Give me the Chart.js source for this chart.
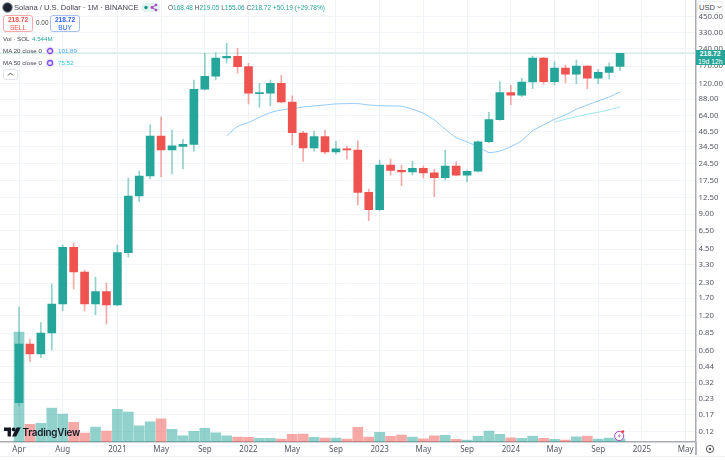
<!DOCTYPE html>
<html>
<head>
<meta charset="utf-8">
<title>Solana / U.S. Dollar</title>
<script src="https://cdn.jsdelivr.net/npm/chart.js@4"></script>
<style>
  html, body { margin: 0; padding: 0; background: #fff; }
  #wrap { position: relative; width: 725px; height: 460px; overflow: hidden; font-family: "Liberation Sans", sans-serif; color: #434651; }
  #wrap canvas { position: absolute; left: 0; top: 0; }
  .t { position: absolute; white-space: nowrap; font-size: 6.2px; line-height: 10px; }
  .box { position: absolute; width: 28px; height: 15px; border-radius: 3px; background: #fff; text-align: center; font-size: 6.6px; line-height: 7.5px; }
  .ico { position: absolute; }
</style>
</head>
<body>
<div id="wrap">
  <canvas id="myChart" width="725" height="460"></canvas>

  <svg class="ico" style="left:2px;top:2px" width="11" height="11"><circle cx="5.5" cy="5.5" r="4.8" fill="#1c2230" stroke="#7b8f9a" stroke-width="1"/></svg>
  <div class="t" style="left:14px;top:2.5px;font-size:7.6px;color:#3f424c">Solana / U.S. Dollar · 1M · BINANCE</div>
  <div class="ico" style="left:141px;top:3px;width:19px;height:9px;border-radius:5px;background:#e3f3f1"></div>
  <svg class="ico" style="left:143px;top:3px" width="16" height="9"><circle cx="3" cy="4.5" r="1.7" fill="#089981"/><path d="M9 4.5 L13 2 M9 4.5 L13 7" stroke="#ab47bc" stroke-width="1"/><circle cx="9" cy="4.5" r="1.4" fill="#ab47bc"/><circle cx="13" cy="2" r="1.3" fill="#ab47bc"/><circle cx="13" cy="7" r="1.3" fill="#ab47bc"/></svg>
  <div class="t" style="left:168px;top:2.5px;font-size:6.5px;color:#26a69a"><span style="color:#555">O</span>168.48 <span style="color:#555">H</span>219.05 <span style="color:#555">L</span>155.06 <span style="color:#555">C</span>218.72 +50.19 (+29.78%)</div>

  <div class="box" style="left:3px;top:15px;border:1px solid #f7a9a9;color:#ef5350"><b style="font-weight:600">218.72</b><br>SELL</div>
  <div class="t" style="left:36px;top:18px;font-size:6.4px;color:#444">0.00</div>
  <div class="box" style="left:50px;top:15px;border:1px solid #a9bdf7;color:#2962ff"><b style="font-weight:600">218.72</b><br>BUY</div>

  <div class="t" style="left:3px;top:34px">Vol · SOL</div>
  <div class="t" style="left:32px;top:34px;color:#26a69a">4.544M</div>
  <div class="t" style="left:3px;top:46px">MA 20 close 0</div>
  <svg class="ico" style="left:45px;top:46px" width="10" height="10"><circle cx="5" cy="5" r="4.5" fill="#ede7f6"/><circle cx="5" cy="5" r="2.5" fill="none" stroke="#7c4dff" stroke-width="1.3"/></svg>
  <div class="t" style="left:58px;top:46px;color:#42a5f5">101.89</div>
  <div class="t" style="left:3px;top:57.5px">MA 50 close 0</div>
  <svg class="ico" style="left:45px;top:57.5px" width="10" height="10"><circle cx="5" cy="5" r="4.5" fill="#ede7f6"/><circle cx="5" cy="5" r="2.5" fill="none" stroke="#7c4dff" stroke-width="1.3"/></svg>
  <div class="t" style="left:58px;top:57.5px;color:#26c6da">75.52</div>
  <svg class="ico" style="left:3px;top:69px" width="15" height="11"><rect x="0.5" y="0.5" width="14" height="10" rx="2" fill="#fff" stroke="#e0e3eb"/><path d="M5 6.5 L7.5 4 L10 6.5" fill="none" stroke="#555" stroke-width="1"/></svg>

  <div class="t" style="left:697px;top:1px;width:26px;height:12px;background:#fff;border:1px solid #eceef2;border-radius:2px;box-sizing:border-box;font-size:7.6px;line-height:11px;padding-left:1px">USD</div>
  <svg class="ico" style="left:717px;top:5px" width="5" height="4"><path d="M0.5 1 L2.5 3 L4.5 1" fill="none" stroke="#555" stroke-width=".8"/></svg>

  <div class="t" style="left:695.5px;top:50px;width:29.5px;height:15px;background:#26a69a;color:#fff;font-size:6.8px;line-height:7.5px;text-align:center"><b style="font-weight:600">218.72</b><br>19d 12h</div>

  <svg class="ico" style="left:613px;top:429px" width="14" height="13"><circle cx="6.2" cy="7" r="4.6" fill="#fff" stroke="#ab47bc" stroke-width="1"/><path d="M7 4.2 L4.8 7.3 L6.3 7.3 L5.4 9.8 L7.7 6.6 L6.2 6.6 Z" fill="#ab47bc"/><circle cx="9.8" cy="2.6" r="1.4" fill="#f23645"/></svg>

  <svg class="ico" style="left:4px;top:427px" width="17" height="10"><path d="M0 0.5 H7 V9.5 H3.6 V4 H0 Z" fill="#131722"/><circle cx="9.6" cy="2.4" r="1.9" fill="#131722"/><path d="M12.6 0.5 H16.8 L12.2 9.5 H8 Z" fill="#131722"/></svg>
  <div class="t" style="left:22.5px;top:424.5px;font-family:Inter,sans-serif;font-size:9.8px;line-height:15px;font-weight:600;letter-spacing:-.2px;color:#131722">TradingView</div>

  <div class="ico" style="left:695px;top:442px;width:1.5px;height:13px;background:#b2b5be"></div>
  <div class="ico" style="left:0;top:455.5px;width:725px;height:1px;background:#f0f1f3"></div>
  <svg class="ico" style="left:705px;top:444px" width="10" height="10"><circle cx="5" cy="5" r="3.6" fill="none" stroke="#555" stroke-width="1"/><circle cx="5" cy="5" r="1.2" fill="#555"/></svg>
</div>

<script>
// Solana monthly candles, Apr 2020 .. Nov 2024
const opens = [
  .214, .687, .563, .853, 1.518, 4.67, 2.863, 1.518, 1.937, 1.488,
  4.20, 12.93, 19.2, 42.5, 32.18, 34.5, 36.0, 107.3, 138.9, 199.5,
  206.4, 167.9, 98.4, 99.1, 120.9, 83.4, 45.1, 33.5, 41.9, 30.9,
  32.85, 32.18, 13.9, 9.85, 23.8, 21.5, 20.8, 22.4, 20.5, 18.6,
  23.4, 19.5, 21.1, 38, 58.8, 100.4, 95.3, 124, 199.5, 124.8,
  163.6, 144.4, 170.3, 133.5, 150.2, 168.48];
const highs = [
  1.43, .758, 1.048, 2.256, 4.89, 5.09, 2.98, 2.59, 2.30, 4.89,
  18.47, 21.2, 52.9, 62, 47.8, 39.8, 129, 219, 221, 267,
  241.8, 179.6, 120.9, 129, 141.6, 94, 46.8, 46.9, 47.8, 38.2,
  34.8, 38.5, 14.85, 26.4, 26.9, 23.8, 25.7, 23.4, 21.9, 32.18,
  25.4, 21.6, 38.5, 68, 124.8, 116.2, 133.5, 207.6, 202, 185.5,
  173.7, 191.8, 172, 159.4, 180.7, 219.05];
const lows = [
  .2007, .4836, .523, .61, 1.329, 2.043, 1.32, 1.228, 1.02, 1.459,
  3.855, 11.54, 18.1, 18.95, 20.0, 22.1, 31.5, 105.8, 129, 179.6,
  147.3, 80.2, 75.1, 77.1, 81.9, 35.5, 25.7, 31.5, 29.7, 29.7,
  26.8, 10.8, 7.92, 9.7, 19.5, 15.85, 19.6, 18.5, 12.75, 17.7,
  19.2, 17.1, 20.8, 37.2, 58.2, 79.1, 92.6, 108.6, 118.5, 117.4,
  121.5, 119, 108.6, 120, 132, 155.06];
const closes = [
  .687, .563, .853, 1.518, 4.67, 2.863, 1.518, 1.937, 1.488, 4.20,
  12.93, 19.2, 42.5, 32.18, 35.0, 36.0, 107.3, 138.9, 199.5, 206.4,
  167.9, 99.1, 99.9, 120.9, 83.4, 45.4, 33.5, 41.9, 30.9, 32.85,
  32.18, 13.9, 9.85, 23.8, 21.5, 20.8, 22.4, 20.4, 18.6, 23.4,
  19.5, 21.1, 37.9, 58.8, 100.4, 95.3, 124, 199.5, 124.8, 163.6,
  144.4, 170.3, 133.5, 150.2, 167, 218.72];
// volume in millions of SOL
const volumes = [
  154, 24.8, 26.2, 47.6, 39.2, 27.6, 12.6, 21, 15.4, 45.8,
  42, 22.8, 28.4, 32.6, 17.8, 8.8, 15, 19.2, 13, 8.8,
  7, 6.6, 5.2, 5.2, 4.2, 10.8, 11.2, 6.6, 5.6, 5.6,
  4.2, 20.6, 7, 13.6, 8, 9.8, 7, 4.6, 8.8, 9.4,
  3.8, 2.8, 8, 15.4, 10.8, 6, 5.2, 8.4, 5.2, 3.8,
  2.8, 7.4, 8.4, 4.2, 5.6, 4.544];
const ma20Start = 19;
const ma20 = [
  42.7, 51.3, 55.4, 61.6, 67.5, 71.2, 73.1, 75.5, 77.1, 78.6,
  80.2, 80.7, 80.7, 78.6, 77.4, 77.1, 76.6, 72.2, 66.7, 58.4,
  48.5, 41.1, 37.7, 34.2, 30.6, 31.5, 34.4, 38.7, 47.2, 52.9,
  59.2, 64.5, 72.2, 78.6, 85.1, 92.1, 101.89];
const ma50Start = 49;
const ma50 = [55.8, 59.2, 62.3, 65.4, 68, 71.2, 75.52];

const monthTicks = [0, 4, 9, 13, 17, 21, 25, 29, 33, 37, 41, 45, 49, 53, 57, 61];
const monthLabels = ["Apr", "Aug", "2021", "May", "Sep", "2022", "May", "Sep", "2023", "May", "Sep", "2024", "May", "Sep", "2025", "May"];
const priceTicks = [450, 330, 240, 170, 120, 88, 64, 46.5, 34.5, 24.5, 17.5, 12.5, 9, 6.5, 4.5, 3.3, 2.3, 1.7, 1.2, .85, .6, .44, .32, .23, .17, .12];

const upColor = "#26a69a";
const downColor = "#ef5350";
const colorOf = (i, alpha) => {
  const up = closes[i] >= opens[i];
  return up ? `rgba(38,166,154,${alpha})` : `rgba(239,83,80,${alpha})`;
};
const idx = opens.map((_, i) => i);
const xMin = -1.74, xMax = 61.9;

new Chart("myChart", {
  data: {
    datasets: [
      {
        type: "bar", yAxisID: "y", grouped: false, order: 1, barThickness: 8,
        data: idx.map(i => ({x: i, y: [opens[i], closes[i]]})),
        backgroundColor: idx.map(i => closes[i] >= opens[i] ? upColor : downColor),
        minBarLength: 1
      },
      {
        type: "bar", yAxisID: "y", grouped: false, order: 2, barThickness: 1,
        data: idx.map(i => ({x: i, y: [lows[i], highs[i]]})),
        backgroundColor: idx.map(i => colorOf(i, .5))
      },
      {
        type: "line", yAxisID: "y", order: 3, borderColor: "#90caf9", borderWidth: 1, pointRadius: 0, tension: .2,
        data: ma20.map((v, i) => ({x: i + ma20Start, y: v}))
      },
      {
        type: "line", yAxisID: "y", order: 3, borderColor: "#a3e6ea", borderWidth: 1, pointRadius: 0,
        data: ma50.map((v, i) => ({x: i + ma50Start, y: v}))
      },
      {
        type: "line", yAxisID: "y", order: 4, borderColor: "#d3ecea", borderWidth: 1.5, pointRadius: 0,
        data: [{x: xMin, y: closes[closes.length - 1]}, {x: xMax, y: closes[closes.length - 1]}]
      },
      {
        type: "bar", yAxisID: "vol", grouped: false, order: 5, barThickness: 10,
        data: idx.map(i => ({x: i, y: volumes[i]})),
        backgroundColor: idx.map(i => colorOf(i, .5))
      }
    ]
  },
  options: {
    responsive: false,
    animation: false,
    layout: {padding: 0},
    plugins: {legend: {display: false}, tooltip: {enabled: false}},
    scales: {
      x: {
        type: "linear", bounds: "data", offset: false, min: xMin, max: xMax,
        afterBuildTicks: s => { s.ticks = monthTicks.map(v => ({value: v})); },
        afterFit: s => { s.height = 18; s.paddingLeft = 0; s.paddingRight = 0; },
        grid: {color: "#edf3f8", drawTicks: false, offset: false},
        border: {display: true, color: "#a9acb5", width: 1.5},
        ticks: {
          autoSkip: false, maxRotation: 0, padding: 3,
          color: "#555963", font: {family: "Noto Sans", size: 8},
          callback: v => monthLabels[monthTicks.indexOf(v)]
        }
      },
      y: {
        type: "logarithmic", position: "right", bounds: "data", min: 0.0983, max: 630,
        afterBuildTicks: s => { s.ticks = priceTicks.map(v => ({value: v})); },
        afterFit: s => { s.width = 29.5; s.paddingTop = 0; s.paddingBottom = 0; },
        grid: {color: "#f1f4f9", drawTicks: false},
        border: {display: true, color: "#a9acb5", width: 1.5},
        ticks: {
          autoSkip: false, padding: 3,
          color: "#555963", font: {family: "Noto Sans", size: 7.8},
          callback: v => v.toFixed(2)
        }
      },
      vol: {type: "linear", display: false, min: 0, max: 618.8}
    }
  }
});
</script>
</body>
</html>
